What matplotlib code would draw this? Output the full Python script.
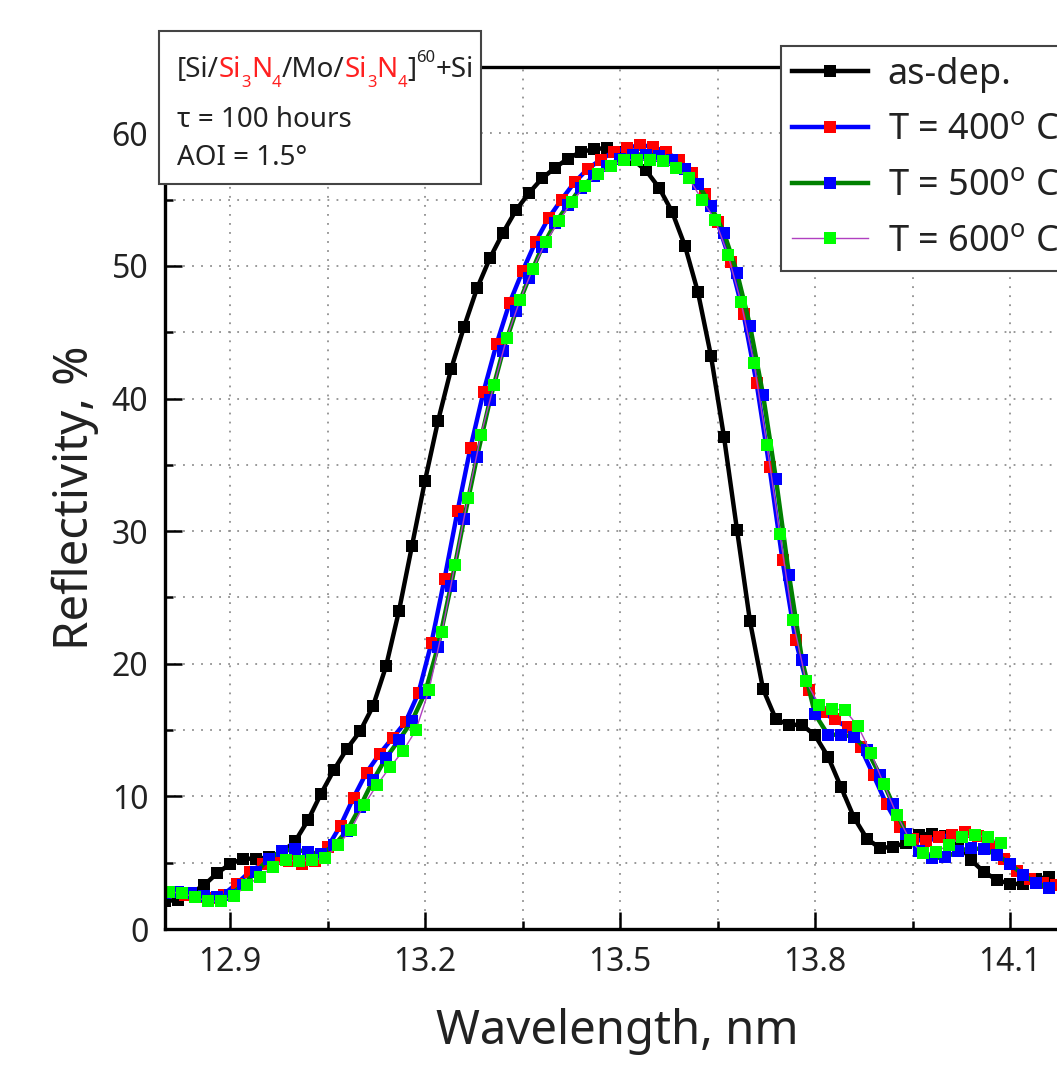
import numpy as np
import matplotlib
matplotlib.use("Agg")
import matplotlib.pyplot as plt
from matplotlib.ticker import MultipleLocator
from matplotlib.patches import Rectangle

plt.rcParams['font.family'] = ['Noto Sans', 'DejaVu Sans']
plt.rcParams['mathtext.fontset'] = 'custom'
plt.rcParams['mathtext.rm'] = 'Noto Sans'

W, H = 1057, 1070

# ---------------- data ----------------
r_asdep = [2.1, 2.2, 2.7, 3.3, 4.2, 4.9, 5.3, 5.3, 5.4, 5.8,
           6.6, 8.2, 10.2, 12.0, 13.6, 14.9, 16.8, 19.8, 24.0, 28.9,
           33.8, 38.3, 42.2, 45.4, 48.3, 50.6, 52.5, 54.2, 55.5, 56.6,
           57.4, 58.1, 58.6, 58.8, 58.9, 58.6, 58.0, 57.2, 55.9, 54.1,
           51.5, 48.0, 43.2, 37.1, 30.1, 23.2, 18.1, 15.8, 15.4, 15.4,
           14.6, 13.0, 10.7, 8.4, 6.8, 6.1, 6.2, 6.5, 7.1, 7.2,
           7.0, 6.5, 5.2, 4.3, 3.7, 3.4, 3.4, 3.8, 3.9]
r_400 = [2.8, 2.6, 2.4, 2.3, 2.6, 3.4, 4.3, 4.9, 5.3, 5.15,
         4.9, 5.15, 6.15, 7.8, 9.9, 11.8, 13.2, 14.4, 15.6, 17.8,
         21.6, 26.4, 31.5, 36.3, 40.5, 44.1, 47.2, 49.6, 51.8, 53.6,
         55.0, 56.3, 57.3, 58.0, 58.6, 58.9, 59.1, 59.0, 58.6, 58.0,
         57.0, 55.4, 53.3, 50.3, 46.4, 41.2, 34.8, 27.8, 21.8, 18.0,
         16.4, 15.8, 15.2, 13.7, 11.6, 9.4, 7.7, 6.8, 6.6, 6.9,
         7.1, 7.3, 7.0, 6.2, 5.3, 4.4, 3.8, 3.5, 3.3]
r_500 = [2.7, 2.8, 2.7, 2.5, 2.4, 2.6, 3.3, 4.3, 5.3, 5.9,
         6.0, 5.8, 5.65, 6.3, 7.4, 9.2, 11.2, 12.9, 14.25, 15.7,
         17.8, 21.3, 25.9, 30.9, 35.6, 39.9, 43.6, 46.6, 49.1, 51.4,
         53.2, 54.6, 55.9, 56.8, 57.5, 58.1, 58.4, 58.4, 58.3, 58.0,
         57.3, 56.2, 54.5, 52.5, 49.5, 45.5, 40.3, 33.9, 26.7, 20.3,
         16.2, 14.65, 14.65, 14.5, 13.5, 11.6, 9.4, 7.2, 5.85, 5.35,
         5.4, 5.85, 6.1, 6.0, 5.6, 4.9, 4.1, 3.45, 3.1]
r_600 = [2.8, 2.7, 2.4, 2.1, 2.1, 2.5, 3.3, 3.95, 4.7, 5.2,
         5.1, 5.2, 5.35, 6.3, 7.5, 9.35, 10.85, 12.2, 13.4, 15.0,
         18.0, 22.4, 27.45, 32.5, 37.25, 41.0, 44.6, 47.4, 49.8, 51.8,
         53.4, 54.85, 56.0, 56.9, 57.5, 58.0, 58.0, 58.0, 57.9, 57.4,
         56.6, 55.0, 53.5, 50.85, 47.3, 42.7, 36.5, 29.75, 23.3, 18.7,
         16.9, 16.6, 16.5, 15.3, 13.3, 10.9, 8.6, 6.7, 5.7, 5.8,
         6.35, 6.9, 7.1, 6.9, 6.5]

step = 0.02
wl_asdep = np.round(12.800 + step * np.arange(len(r_asdep)), 3)
wl_400 = np.round(12.810 + step * np.arange(len(r_400)), 3)
wl_500 = np.round(12.800 + step * np.arange(len(r_500)), 3)
wl_600 = np.round(12.806 + step * np.arange(len(r_600)), 3)

labels = ['as-dep.', r'T = 400$^{\mathrm{o}}$ C', r'T = 500$^{\mathrm{o}}$ C', r'T = 600$^{\mathrm{o}}$ C']
x_ticks = [12.9, 13.2, 13.5, 13.8, 14.1]
y_ticks = [0, 10, 20, 30, 40, 50, 60]

# ---------------- figure ----------------
fig = plt.figure(figsize=(W / 100, H / 100), dpi=100)
ax_left, ax_right_px = 165, 1140
ax_top, ax_bot = 67, 929
ax = fig.add_axes([ax_left / W, 1 - ax_bot / H, (ax_right_px - ax_left) / W, (ax_bot - ax_top) / H])

ms = 8.5
ax.plot(wl_asdep, r_asdep, color='black', lw=3.2, marker='s', ms=ms,
        mfc='black', mec='black', mew=0, label=labels[0])
ax.plot(wl_400, r_400, color='#0000ff', lw=3.2, marker='s', ms=ms,
        mfc='#ff0000', mec='#ff0000', mew=0, label=labels[1])
ax.plot(wl_500, r_500, color='#008000', lw=3.2, marker='s', ms=ms,
        mfc='#0000ff', mec='#0000ff', mew=0, label=labels[2])
ax.plot(wl_600, r_600, color='#b040c0', lw=1.0, marker='s', ms=ms,
        mfc='#00ff00', mec='#00ff00', mew=0, label=labels[3])

ax.set_xlim(12.8, 14.3)
ax.set_ylim(0, 65)
ax.set_xticks(x_ticks)
ax.set_xticklabels([f"{v:.1f}" for v in x_ticks])
ax.set_yticks(y_ticks)
ax.xaxis.set_minor_locator(MultipleLocator(0.15))
ax.yaxis.set_minor_locator(MultipleLocator(5))
ax.tick_params(which='major', direction='in', length=12, width=1.8, labelsize=23, pad=12,
               colors='black', labelcolor='#222222')
ax.tick_params(which='minor', direction='in', length=6, width=1.8)
ax.tick_params(top=False, right=False)
for s in ax.spines.values():
    s.set_linewidth(2.4)
ax.grid(True, which='both', color='#909090', linestyle=(0, (1, 4)), linewidth=1.3)
ax.set_axisbelow(True)

ax.set_xlabel('Wavelength, nm', fontsize=34, color='#222222')
ax.set_ylabel('Reflectivity, %', fontsize=34, color='#222222', labelpad=9)
ax.xaxis.set_label_coords((617 - ax_left) / (ax_right_px - ax_left), -0.092)

leg = ax.legend(loc='upper left', bbox_to_anchor=(781 / W, 1 - 45.7 / H),
                bbox_transform=fig.transFigure, borderaxespad=0, fontsize=26,
                handlelength=2.1, handletextpad=0.55, numpoints=1, labelspacing=0.55,
                borderpad=0.3, fancybox=False, framealpha=1, edgecolor='#444444',
                markerscale=1.1)
leg.get_frame().set_linewidth(1.5)
for t in leg.get_texts():
    t.set_color('#222222')

# ---------------- text box ----------------
box = Rectangle((159 / W, 1 - 184 / H), (481 - 159) / W, (184 - 30.7) / H,
                transform=fig.transFigure, facecolor='white', edgecolor='#444444',
                linewidth=1.5, zorder=3)
fig.add_artist(box)

renderer = fig.canvas.get_renderer()
fs_main, fs_small = 20, 12
red = '#ff2020'
dark = '#222222'
pieces = [('[Si/', dark, fs_main, 0), ('Si', red, fs_main, 0), ('3', red, fs_small, 10),
          ('N', red, fs_main, 0), ('4', red, fs_small, 10), ('/Mo/', dark, fs_main, 0),
          ('Si', red, fs_main, 0), ('3', red, fs_small, 10), ('N', red, fs_main, 0),
          ('4', red, fs_small, 10), (']', dark, fs_main, 0), ('60', dark, fs_small, -15),
          ('+Si', dark, fs_main, 0)]
x = 177
base1 = 76.7
for s, c, fsz, dy in pieces:
    t = fig.text(x / W, 1 - (base1 + dy) / H, s, color=c, fontsize=fsz,
                 ha='left', va='baseline', zorder=4)
    bb = t.get_window_extent(renderer=renderer)
    x += bb.width

fig.text(177 / W, 1 - 127 / H, 'τ = 100 hours', color=dark, fontsize=fs_main,
         ha='left', va='baseline', zorder=4)
fig.text(177 / W, 1 - 165 / H, 'AOI = 1.5°', color=dark, fontsize=fs_main,
         ha='left', va='baseline', zorder=4)

fig.savefig('out.png', dpi=100)
